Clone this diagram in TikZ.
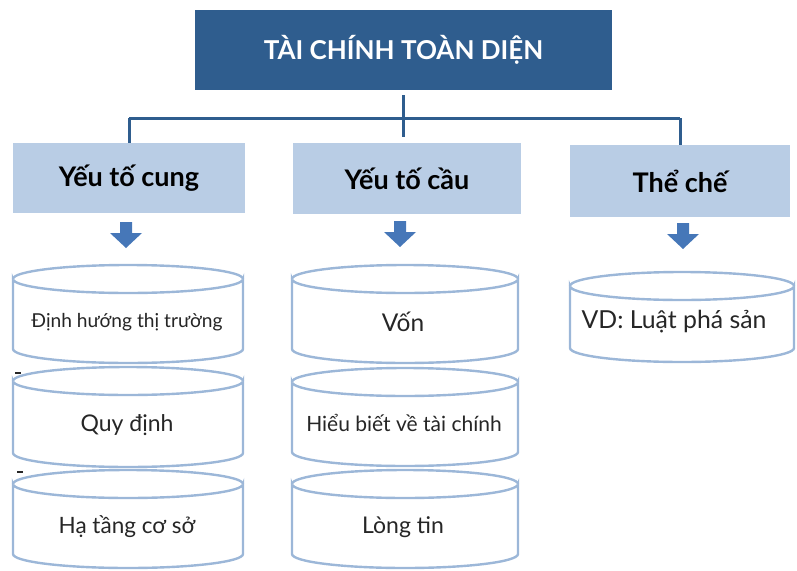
\documentclass[tikz,border=0pt]{standalone}
\usepackage{fontspec}
\setmainfont{Lato}
\definecolor{dkblue}{HTML}{2F5D8E}
\definecolor{ltblue}{HTML}{B9CDE5}
\definecolor{cyledge}{HTML}{9CB7D8}
\definecolor{arrblue}{HTML}{4677B8}
\definecolor{txtgray}{HTML}{262626}
\newcommand\mycyl[4]{% cx, top, bottom, rx
  \filldraw[cylshape] (#1-#4,#2+14) -- (#1-#4,#3-14)
     arc[start angle=180,end angle=0,x radius=#4,y radius=14] -- (#1+#4,#2+14)
     arc[start angle=0,end angle=180,x radius=#4,y radius=14] -- cycle;
  \draw[cylshape] (#1-#4,#2+14) arc[start angle=180,end angle=360,x radius=#4,y radius=14];
}
\begin{document}
\begin{tikzpicture}[x=1pt,y=-1pt,
  titlebox/.style={fill=dkblue,text=white,inner sep=0,
     font=\bfseries\fontsize{26}{29}\selectfont},
  headbox/.style={fill=ltblue,text=black,inner sep=0,
     font=\bfseries\fontsize{27}{30}\selectfont},
  conn/.style={draw=dkblue,line width=3pt},
  cylshape/.style={draw=cyledge,fill=white,line width=2.4pt},
  cyltext/.style={text=txtgray,inner sep=0},
  dashmark/.style={fill=txtgray,inner sep=0,minimum width=6pt,minimum height=1.4pt},
  blockarrow/.pic={\fill[arrblue] (-6,0) -- (6,0) -- (6,11) -- (16,11) -- (0,26)
     -- (-16,11) -- (-6,11) -- cycle;}
]
\useasboundingbox (0,0) rectangle (797,570);
% title and headers
\node[titlebox,minimum width=417pt,minimum height=80pt] (title) at (403.5,50) {TÀI CHÍNH TOÀN DIỆN};
\node[headbox,minimum width=232pt,minimum height=70pt] (cung) at (129,178) {Yếu tố cung};
\node[headbox,minimum width=228pt,minimum height=71pt] (cau) at (407,178.5) {Yếu tố cầu};
\node[headbox,minimum width=220pt,minimum height=72pt] (che) at (680,181) {Thể chế};
% connectors
\coordinate (hl) at (129,118);
\draw[conn,shorten <=5pt,shorten >=6pt] (title.south) -- (title.south |- cau.north);
\draw[conn] (cung.north |- hl) -- (che.north |- hl);
\draw[conn] (cung.north |- hl) -- (cung.north);
\draw[conn] (che.north |- hl) -- (che.north);
% block arrows
\pic at (126,222) {blockarrow};
\pic at (400,221) {blockarrow};
\pic at (683,223) {blockarrow};
% left column
\mycyl{128}{265}{363}{115}
\mycyl{128}{367}{467}{115}
\mycyl{128}{470}{568}{115}
\node[cyltext,font=\fontsize{19.2}{22}\selectfont] (c1) at (127,322) {Định hướng thị trường};
\node[cyltext,font=\fontsize{23}{27}\selectfont] (c2) at (127,425) {Quy định};
\node[cyltext,font=\fontsize{22.5}{26}\selectfont] (c3) at (127,527) {Hạ tầng cơ sở};
\node[dashmark] (d1) at (18,373) {};
\node[dashmark] (d2) at (20,472) {};
% middle column
\mycyl{405}{265}{363}{113}
\mycyl{405}{368}{466}{113}
\mycyl{405}{470}{568}{113}
\node[cyltext,font=\fontsize{24.5}{28}\selectfont] (m1) at (403,322) {Vốn};
\node[cyltext,font=\fontsize{21}{25}\selectfont] (m2) at (404,423) {Hiểu biết về tài chính};
\node[cyltext,font=\fontsize{23}{27}\selectfont] (m3) at (403,527) {Lòng tin};
% right column
\mycyl{682}{272}{362}{112}
\node[cyltext,font=\fontsize{24.8}{29}\selectfont] (r1) at (674,322) {VD: Luật phá sản};
\end{tikzpicture}
\end{document}
